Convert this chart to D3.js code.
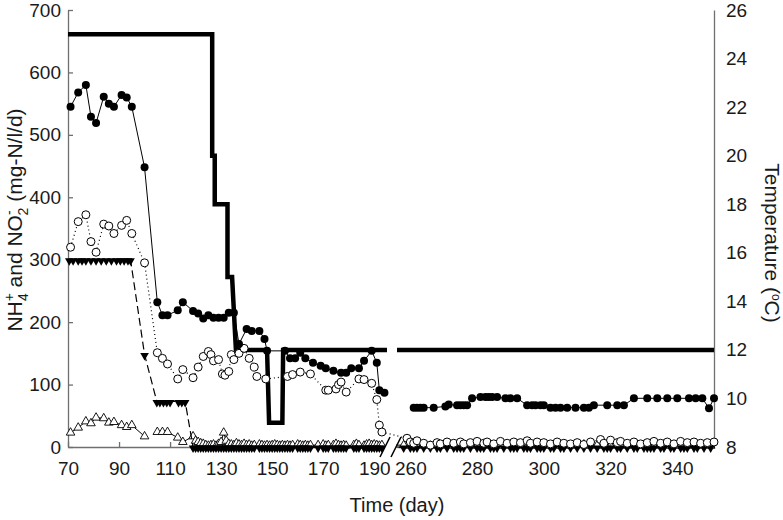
<!DOCTYPE html>
<meta charset="utf-8">
<style>

body { margin: 0; background: #fff; }
text { font-family: "Liberation Sans", Arial, sans-serif; fill: #1a1a1a; }
.axis path, .axis line { stroke: #6f6f6f; stroke-width: 1.3px; }
.axis text { font-size: 19px; fill: #1a1a1a; font-family: "Liberation Sans", Arial, sans-serif; }
.temp-line { fill: none; stroke: #000; stroke-width: 4.5px; stroke-linejoin: miter; }
.nh4-line { fill: none; stroke: #000; stroke-width: 1px; }
.no2-line { fill: none; stroke: #000; stroke-width: 1.2px; stroke-dasharray: 1,3; }
.load-line { fill: none; stroke: #000; stroke-width: 1.2px; stroke-dasharray: 8,4; }
.eff-line { fill: none; stroke: #000; stroke-width: 1px; }

</style>

<body>
<script src="https://d3js.org/d3.v7.min.js"></script>
<script>

// temperature (right axis), corner points of the step line
var tempDays1 = [70, 126.5, 126.5, 127.5, 127.5, 132.5, 132.5, 134.3, 135.8, 148, 148.8, 154, 154.3, 195];
var tempValues1 = [25, 25, 20, 20, 18, 18, 15, 15, 12, 12, 9, 9, 12, 12];
var tempDays2 = [256, 351];
var tempValues2 = [12, 12];

// filled circles
var nh4Days = [71, 74, 77, 79, 81, 84, 86, 88, 91, 93,
    95, 100, 105, 107, 109, 113, 115, 119, 121, 123,
    125, 127, 129, 131, 133, 135, 137, 140, 142, 145,
    147, 148, 155, 157, 159, 161, 163, 166, 169, 171,
    174, 177, 179, 181, 184, 186, 189, 191, 192, 194,
    261, 262, 263, 264, 267, 270.5, 271.5, 274, 275, 276,
    277, 278.5, 281, 282.5, 283.5, 284.5, 286, 288.5, 290, 292,
    295, 296.5, 297.5, 299, 300, 302, 303.5, 305, 307, 309.5,
    312, 313.5, 315, 319, 322, 324, 327, 331, 334, 337,
    340, 343.5, 345.5, 347.5, 349.5, 351];
var nh4Values = [545, 568, 580, 529, 519, 561, 550, 545, 564, 560,
    545, 448, 232, 211, 211, 219, 232, 218, 214, 206,
    211, 207, 207, 207, 215, 215, 165, 189, 186, 186,
    173, 154, 154, 142, 142, 151, 142, 135, 130, 126,
    122, 119, 119, 126, 126, 138, 154, 135, 91, 87,
    63, 63, 63, 63, 63, 65, 68, 67, 67, 67,
    67, 78, 80, 80, 80, 80, 80, 78, 78, 78,
    67, 67, 67, 67, 67, 63, 63, 63, 63, 63,
    63, 63, 67, 67, 67, 67, 78, 78, 78, 78,
    78, 78, 78, 78, 62, 78];

// open circles
var no2Days = [71, 74, 77, 79, 81, 84, 86, 88, 91, 93,
    95, 100, 105, 107, 109, 113, 115, 119, 121, 123,
    125, 126, 127, 129, 130.5, 131.5, 133, 134, 135, 137,
    139, 141, 143, 144, 147.5, 156, 158, 161, 165, 171,
    172, 175, 176, 177, 179, 184, 186, 189, 191, 192,
    193,
    259, 260, 261, 262, 264, 266, 268, 269, 271, 273,
    275, 276, 278, 280, 282, 283, 285, 287, 289, 291,
    293, 295, 296, 298, 300, 302, 304, 306, 308, 310,
    312, 314, 317, 318, 320, 322, 323, 325, 327, 329,
    331, 333, 335, 337, 339, 341, 343, 345, 347, 349,
    351];
var no2Values = [320, 361, 372, 329, 312, 357, 354, 342, 355, 363,
    342, 295, 151, 142, 133, 109, 124, 111, 128, 145,
    153, 148, 138, 140, 117, 115, 121, 148, 140, 150,
    158, 142, 128, 113, 109, 113, 116, 120, 117, 91,
    91, 93, 100, 104, 88, 109, 108, 102, 76, 35,
    24,
    14, 8, 6, 10, 6, 3, 7, 5, 8, 6,
    8, 5, 7, 9, 6, 8, 5, 9, 6, 8,
    7, 10, 6, 8, 7, 5, 8, 6, 5, 7,
    4, 8, 12, 6, 11, 7, 9, 6, 8, 5,
    7, 9, 6, 8, 5, 9, 7, 8, 6, 7,
    8];

// sampling days of the triangle series once the load was stopped
var zeroDays1 = [119, 120, 121, 122, 123, 124, 125, 126, 127, 128,
    129, 130, 131, 132, 133, 134, 135, 136, 137, 138,
    139, 140, 141, 142, 143, 145, 146, 147, 148, 149,
    150, 151, 152, 153, 154, 155, 156, 157, 158, 160,
    161, 162, 163, 164, 165, 168, 170, 171, 172, 174,
    175, 176, 177, 178, 179, 182, 183, 184, 186, 187,
    188, 189, 190, 191, 192, 193];
var zeroDays2 = [258, 260, 261, 262, 264, 266, 268, 269, 271, 273,
    274, 275, 276, 278, 280, 281, 282, 284, 285, 286,
    288, 290, 291, 292, 294, 295, 296, 298, 299, 300,
    302, 303, 305, 306, 308, 310, 312, 314, 316, 318,
    319, 320, 322, 323, 325, 327, 328, 330, 331, 332,
    333, 335, 336, 338, 339, 341, 342, 343, 345, 346,
    348, 350];

// filled down triangles
var loadDays = [70.5, 72, 74, 75.5, 77, 79, 81, 83, 85, 87, 89, 90.5, 92, 93.5, 94.5,
    100,
    104.8, 106, 107.4, 108.7, 110, 113.3, 114.6, 115.9].concat(zeroDays1, zeroDays2);
var loadValues = [300, 300, 300, 300, 300, 300, 300, 300, 300, 300, 300, 300, 300, 300, 300,
    148,
    73, 73, 73, 73, 73, 73, 73, 73,
    0, 0, 0, 0, 0, 0, 0, 0, 0, 0, 0, 0, 0, 0, 0, 0, 0, 0, 0, 0, 0, 0,
    0, 0, 0, 0, 0, 0, 0, 0, 0, 0, 0, 0, 0, 0, 0, 0, 0, 0, 0, 0, 0, 0,
    0, 0, 0, 0, 0, 0, 0, 0, 0, 0, 0, 0, 0, 0, 0, 0, 0, 0, 0, 0, 0, 0,
    0, 0, 0, 0, 0, 0, 0, 0, 0, 0, 0, 0, 0, 0, 0, 0, 0, 0, 0, 0, 0, 0,
    0, 0, 0, 0, 0, 0, 0, 0, 0, 0, 0, 0, 0, 0, 0, 0, 0, 0, 0, 0, 0, 0,
    0, 0, 0, 0, 0, 0, 0, 0, 0, 0, 0, 0, 0, 0, 0, 0, 0, 0];

// open up triangles (null = no sample, line is broken)
var effDays = [71, 74, 77, 79, 81, 84, 86, 88, 91, 93, 95, 100, 102,
    105, 107, 109, 113, 115].concat(zeroDays1, zeroDays2);
var effValues = [23, 31, 41, 38, 47, 46, 39, 40, 35, 32, 35, 17, null,
    24, 24, 24, 15, 8,
    17, 10, 8, 6, 5, 3, 2, 3, 4, 2,
    5, 8, 23, 10, 5, 4, 3, 6, 4, 3,
    5, 3, 4, 2, 3, 4, 3, 2, 3, 2,
    3, 4, 3, 2, 3, 2, 3, 2, 3, 4,
    3, 2, 3, 2, 3, 3, 4, 2, 3, 3,
    5, 3, 2, 3, 2, 3, 5, 3, 2, 4,
    5, 3, 4, 3, 2, 3,
    3, 2, 3, 2, 4, 2, 3, 2, 3, 2,
    3, 2, 3, 4, 2, 3, 2, 3, 2, 3,
    2, 3, 4, 2, 3, 2, 3, 2, 3, 4,
    2, 3, 2, 3, 2, 3, 4, 2, 3, 2,
    3, 2, 3, 4, 2, 3, 2, 3, 2, 3,
    2, 3, 4, 2, 3, 2, 3, 2, 3, 2,
    3, 2];

var xTicks1 = [70, 90, 110, 130, 150, 170, 190];
var xTicks2 = [260, 280, 300, 320, 340];
var yTicks = [0, 100, 200, 300, 400, 500, 600, 700];
var tTicks = [8, 10, 12, 14, 16, 18, 20, 22, 24, 26];

var width = 783, height = 520;

var svg = d3.select("body").append("svg")
    .attr("width", width)
    .attr("height", height);

// broken time axis: two linear pieces
var x1 = d3.scaleLinear().domain([70, 195]).range([68, 387]);
var x2 = d3.scaleLinear().domain([256, 351]).range([397, 714]);
function xPos(day) { return day < 225 ? x1(day) : x2(day); }

var y = d3.scaleLinear().domain([0, 700]).range([447, 10]);
var yT = d3.scaleLinear().domain([8, 26]).range([447, 10]);

function pts(days, vals) {
    return days.map(function(d, i) { return {d: d, v: vals[i]}; });
}

// axes
svg.append("g").attr("class", "axis")
    .attr("transform", "translate(0,447)")
    .call(d3.axisBottom(x1).tickValues(xTicks1).tickSizeInner(-5).tickSizeOuter(0).tickPadding(15));
svg.append("g").attr("class", "axis")
    .attr("transform", "translate(0,447)")
    .call(d3.axisBottom(x2).tickValues(xTicks2).tickSizeInner(-5).tickSizeOuter(0).tickPadding(15));
svg.append("g").attr("class", "axis")
    .attr("transform", "translate(68,0)")
    .call(d3.axisLeft(y).tickValues(yTicks).tickSizeInner(-5).tickSizeOuter(0).tickPadding(7));
svg.append("g").attr("class", "axis")
    .attr("transform", "translate(714,0)")
    .call(d3.axisRight(yT).tickValues(tTicks).tickSize(0).tickPadding(12));

// temperature
var tLine = d3.line()
    .x(function(p) { return xPos(p.d); })
    .y(function(p) { return yT(p.v); });
svg.append("path").attr("class", "temp-line").attr("d", tLine(pts(tempDays1, tempValues1)));
svg.append("path").attr("class", "temp-line").attr("d", tLine(pts(tempDays2, tempValues2)));

var line = d3.line()
    .defined(function(p) { return p.v != null; })
    .x(function(p) { return xPos(p.d); })
    .y(function(p) { return y(p.v); });

var tri = d3.symbol().type(d3.symbolTriangle).size(32);

// open up triangles
var eff = pts(effDays, effValues);
svg.append("path").attr("class", "eff-line").attr("d", line(eff));
svg.selectAll(".eff").data(eff.filter(function(p) { return p.v != null; }))
    .enter().append("path")
    .attr("d", tri)
    .attr("transform", function(p) { return "translate(" + xPos(p.d) + "," + y(p.v) + ")"; })
    .attr("fill", "#fff").attr("stroke", "#000").attr("stroke-width", 0.9);

// filled down triangles
var load = pts(loadDays, loadValues);
svg.append("path").attr("class", "load-line").attr("d", line(load));
svg.selectAll(".load").data(load)
    .enter().append("path")
    .attr("d", tri)
    .attr("transform", function(p) { return "translate(" + xPos(p.d) + "," + (y(p.v) + 1) + ") rotate(180)"; })
    .attr("fill", "#000");

// open circles
var no2 = pts(no2Days, no2Values);
svg.append("path").attr("class", "no2-line").attr("d", line(no2));
svg.selectAll(".no2").data(no2)
    .enter().append("circle")
    .attr("cx", function(p) { return xPos(p.d); })
    .attr("cy", function(p) { return y(p.v); })
    .attr("r", 4)
    .attr("fill", "#fff").attr("stroke", "#000").attr("stroke-width", 1);

// filled circles, the line does not cross the break
var nh4 = pts(nh4Days, nh4Values);
svg.append("path").attr("class", "nh4-line").attr("d", line(nh4.filter(function(p) { return p.d < 225; })));
svg.append("path").attr("class", "nh4-line").attr("d", line(nh4.filter(function(p) { return p.d > 225; })));
svg.selectAll(".nh4").data(nh4)
    .enter().append("circle")
    .attr("cx", function(p) { return xPos(p.d); })
    .attr("cy", function(p) { return y(p.v); })
    .attr("r", 4)
    .attr("fill", "#000");

// axis break marks
svg.append("rect").attr("x", 385).attr("y", 444).attr("width", 11).attr("height", 6).attr("fill", "#fff");
[385, 396].forEach(function(bx) {
    svg.append("line")
        .attr("x1", bx - 5).attr("y1", 457)
        .attr("x2", bx + 5).attr("y2", 437)
        .attr("stroke", "#000").attr("stroke-width", 1.5);
});

// titles
var yTitle = svg.append("text")
    .attr("transform", "translate(22,220) rotate(-90)")
    .attr("text-anchor", "middle")
    .style("font-size", "21px");
yTitle.append("tspan").text("NH");
yTitle.append("tspan").attr("dy", -8).style("font-size", "14px").text("+");
yTitle.append("tspan").attr("dx", -8).attr("dy", 14).style("font-size", "14px").text("4");
yTitle.append("tspan").attr("dy", -6).text(" and NO");
yTitle.append("tspan").attr("dy", -8).style("font-size", "14px").text("-");
yTitle.append("tspan").attr("dx", -5).attr("dy", 14).style("font-size", "14px").text("2");
yTitle.append("tspan").attr("dy", -6).text(" (mg-N/l/d)");

var tTitle = svg.append("text")
    .attr("transform", "translate(765,243) rotate(90)")
    .attr("text-anchor", "middle")
    .style("font-size", "21px");
tTitle.append("tspan").text("Temperature (");
tTitle.append("tspan").attr("dy", -7).style("font-size", "12px").text("o");
tTitle.append("tspan").attr("dy", 7).text("C)");

svg.append("text")
    .attr("x", 397).attr("y", 512)
    .attr("text-anchor", "middle")
    .style("font-size", "20px")
    .text("Time (day)");

</script>
</body>
